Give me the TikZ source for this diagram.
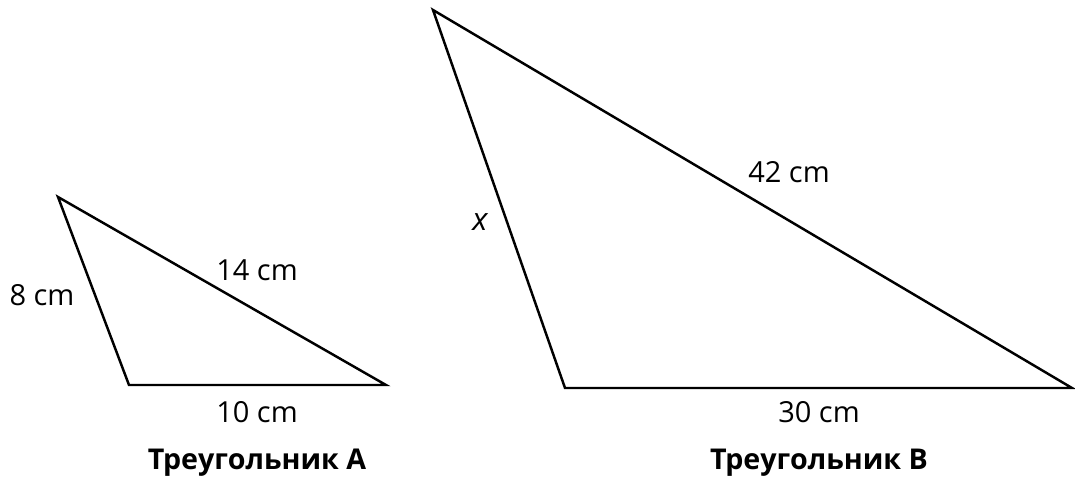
\documentclass[tikz,border=0pt]{standalone}
\usepackage{fontspec}
\setmainfont{Open Sans}
\usetikzlibrary{positioning}

\begin{document}
\begin{tikzpicture}[x=0.02cm, y=-0.02cm, line width=1.4pt, line join=miter,
    lbl/.style={font=\fontsize{16.5}{19}\selectfont, inner sep=0pt},
    title/.style={font=\fontsize{16.3}{19}\selectfont\bfseries, inner sep=0pt}]
    \useasboundingbox (0,0) rectangle (1075,479);

    % Vertices
    \coordinate (A1) at (58,197);
    \coordinate (A2) at (129,385);
    \coordinate (A3) at (386,385);
    \coordinate (B1) at (433,10);
    \coordinate (B2) at (565,388);
    \coordinate (B3) at (1072,388);

    % Triangles
    \draw (A1) -- (A2) -- (A3) -- cycle;
    \draw (B1) -- (B2) -- (B3) -- cycle;

    % Labels
    \node[lbl] (a8) at (42,295) {8 cm};
    \node[lbl] (a14) at (257,270) {14 cm};
    \node[lbl] (a10) at (257,412) {10 cm};
    \node[title] (ta) at (257,463) {Треугольник A};

    \node[lbl, font=\fontsize{18}{20}\selectfont\itshape] (bx) at (480,222) {x};
    \node[lbl] (b42) at (789,172) {42 cm};
    \node[lbl] (b30) at (819,412) {30 cm};
    \node[title] (tb) at (819,463) {Треугольник B};
\end{tikzpicture}
\end{document}
